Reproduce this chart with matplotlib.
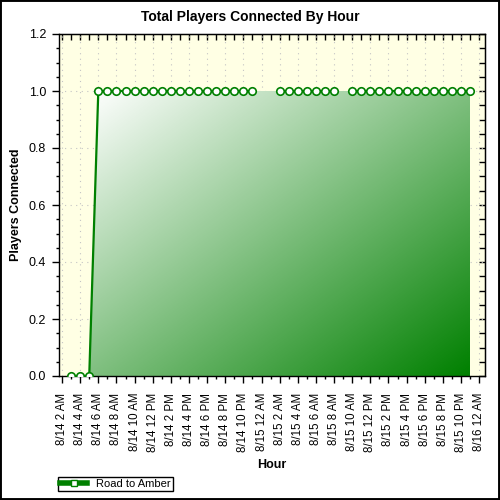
import numpy as np
import matplotlib
matplotlib.use('Agg')
import matplotlib.pyplot as plt
from matplotlib.patches import Polygon, Rectangle
from matplotlib.lines import Line2D
from matplotlib.colors import LinearSegmentedColormap
from matplotlib.ticker import NullFormatter

plt.rcParams['font.family'] = ['Liberation Sans', 'DejaVu Sans']

# hours counted from 8/14 12 AM
hours = list(range(3, 48))
players = [0, 0, 0] + [1.0] * 18 + [np.nan, np.nan] + [1.0] * 7 + [np.nan] + [1.0] * 14

tick_hours = list(range(2, 49, 2))
tick_labels = [
    '8/14 2 AM', '8/14 4 AM', '8/14 6 AM', '8/14 8 AM', '8/14 10 AM', '8/14 12 PM',
    '8/14 2 PM', '8/14 4 PM', '8/14 6 PM', '8/14 8 PM', '8/14 10 PM', '8/15 12 AM',
    '8/15 2 AM', '8/15 4 AM', '8/15 6 AM', '8/15 8 AM', '8/15 10 AM', '8/15 12 PM',
    '8/15 2 PM', '8/15 4 PM', '8/15 6 PM', '8/15 8 PM', '8/15 10 PM', '8/16 12 AM',
]
series_name = 'Road to Amber'

green = '#008000'
xlim = (1.61, 48.65)
ylim = (0, 1.2)

fig = plt.figure(figsize=(5, 5), dpi=100)
ax = fig.add_axes([0.117, 0.248, 0.853, 0.684])
ax.set_facecolor('#ffffe4')
ax.set_axisbelow(True)

# gradient filled area under the line
hv = [h for h, p in zip(hours, players) if not np.isnan(p)]
pv = [p for p in players if not np.isnan(p)]
nz = [i for i, p in enumerate(pv) if p > 0]
start = max(nz[0] - 1, 0)
fx = hv[start:]
fy = pv[start:]
verts = [(fx[0], 0)] + list(zip(fx, fy)) + [(fx[-1], 0)]
poly = Polygon(verts, closed=True, facecolor='none', edgecolor='none')
ax.add_patch(poly)

ny, nx = 200, 200
jj, ii = np.meshgrid(np.linspace(0, 1, nx), np.linspace(0, 1, ny))
t = (jj + ii) / 2
cmap = LinearSegmentedColormap.from_list('wg', ['#ffffff', green])
im = ax.imshow(t, extent=(fx[0], fx[-1], 0, max(fy)), origin='upper',
               aspect='auto', cmap=cmap, vmin=0, vmax=1, zorder=1)
im.set_clip_path(poly)

ax.plot(hours, players, color=green, lw=1.6, marker='o', ms=5.4,
        mfc='white', mec=green, mew=1.2, zorder=3)

ax.set_xlim(*xlim)
ax.set_ylim(*ylim)

ax.set_xticks(tick_hours)
ax.set_xticklabels(tick_labels, rotation=90, fontsize=8.3, va='top', ha='center')
ax.set_xticks(range(2, 49), minor=True)
ax.set_yticks(np.arange(0, 1.21, 0.2))
ax.set_yticklabels(['%.1f' % v for v in np.arange(0, 1.21, 0.2)], fontsize=9)
ax.set_yticks(np.arange(0, 1.21, 0.05), minor=True)

ax.tick_params(axis='both', which='major', direction='out', length=5, width=1,
               top=False, right=False, colors='black')
ax.tick_params(axis='x', which='major', pad=7)
ax.tick_params(axis='y', which='major', pad=4)
ax.tick_params(axis='both', which='minor', direction='out', length=2.5, width=1,
               top=False, right=False)

ax.grid(True, which='major', color='#c4c4c4', linestyle=(0, (1, 4)), lw=0.8)

sx = ax.secondary_xaxis('top')
sx.set_xticks(range(2, 49))
sx.xaxis.set_major_formatter(NullFormatter())
sx.tick_params(direction='in', length=4, width=1)
sy = ax.secondary_yaxis('right')
sy.set_yticks(np.arange(0, 1.21, 0.05))
sy.yaxis.set_major_formatter(NullFormatter())
sy.tick_params(direction='in', length=4, width=1)

for s in ax.spines.values():
    s.set_color('black')
    s.set_linewidth(1)

fig.text(0.5, 1 - 17 / 500, 'Total Players Connected By Hour', ha='center',
         va='center', fontsize=10, fontweight='bold')
fig.text(16 / 500, 1 - 205 / 500, 'Players Connected', ha='center', va='center',
         rotation=90, fontsize=9, fontweight='bold')
fig.text(272 / 500, 1 - 465 / 500, 'Hour', ha='center', va='center',
         fontsize=9, fontweight='bold')

handle = Line2D([], [], color=green, lw=4, marker='s', ms=5,
                mfc='white', mec=green, mew=1)
leg = fig.legend(handles=[handle], labels=[series_name], loc='upper left',
                 bbox_to_anchor=(58 / 500, 1 - 477 / 500), fontsize=8,
                 frameon=True, fancybox=False, edgecolor='black', framealpha=1,
                 borderpad=0.2, handlelength=2.4, handletextpad=0.8,
                 borderaxespad=0)
leg.get_frame().set_linewidth(1)

fig.patches.append(Rectangle((0, 0), 1, 1, transform=fig.transFigure,
                             fill=False, edgecolor='black', lw=2.8))

fig.savefig('out.png', dpi=100)
